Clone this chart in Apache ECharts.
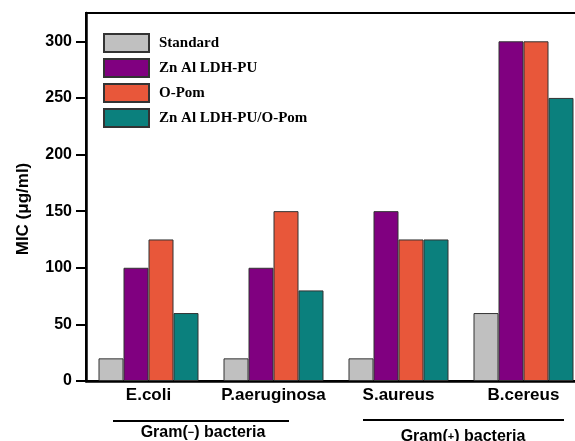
<!DOCTYPE html>
<html>
<head>
<meta charset="utf-8">
<script src="https://cdn.jsdelivr.net/npm/echarts@6/dist/echarts.min.js"></script>
<style>
  html, body { margin: 0; padding: 0; background: #fff; }
  #chart { width: 575px; height: 441px; }
</style>
</head>
<body>
<div id="chart"></div>
<script>
// Minimum inhibitory concentration per strain and material
const categories = ['E.coli', 'P.aeruginosa', 'S.aureus', 'B.cereus'];
const seriesNames = ['Standard', 'Zn Al LDH-PU', 'O-Pom', 'Zn Al LDH-PU/O-Pom'];
const standard = [20, 20, 20, 60];
const znAlLdhPu = [100, 100, 150, 300];
const oPom = [125, 150, 125, 300];
const znAlLdhPuOPom = [60, 80, 125, 250];
const yTicks = [0, 50, 100, 150, 200, 250, 300];
const seriesValues = [standard, znAlLdhPu, oPom, znAlLdhPuOPom];
const seriesColors = ['#c0c0c0', '#800080', '#e8573a', '#0b807d'];

const chart = echarts.init(document.getElementById('chart'), null, { renderer: 'canvas' });

const axisFont = { fontFamily: 'Liberation Sans, Arial, sans-serif', fontWeight: 'bold', color: '#000' };

chart.setOption({
  animation: false,
  backgroundColor: '#fff',
  grid: {
    left: 86, top: 13, width: 500, height: 368,
    containLabel: false, outerBoundsMode: 'none',
    show: true, borderColor: '#000', borderWidth: 2, backgroundColor: 'transparent'
  },
  legend: {
    orient: 'vertical',
    left: 98, top: 28,
    itemWidth: 45, itemHeight: 18, itemGap: 5,
    icon: 'rect',
    data: seriesNames,
    textStyle: { fontFamily: 'Liberation Serif, Times New Roman, serif', fontWeight: 'bold', fontSize: 15, color: '#000', padding: [0, 0, 0, 5] }
  },
  xAxis: {
    type: 'category',
    data: categories,
    boundaryGap: true,
    axisLine: { lineStyle: { color: '#000', width: 2.5 } },
    axisTick: { alignWithLabel: true, length: 8, lineStyle: { color: '#000', width: 2 } },
    axisLabel: Object.assign({ fontSize: 17, margin: 6, interval: 0 }, axisFont),
    splitLine: { show: false }
  },
  yAxis: {
    type: 'value',
    min: 0, max: 325,
    axisLine: { show: true, lineStyle: { color: '#000', width: 2.5 } },
    axisTick: { show: true, length: 10, lineStyle: { color: '#000', width: 2 }, customValues: yTicks },
    axisLabel: Object.assign({ fontSize: 16, margin: 14, customValues: yTicks }, axisFont),
    splitLine: { show: false }
  },
  series: seriesNames.map((name, i) => ({
    name: name,
    type: 'bar',
    data: seriesValues[i],
    barGap: '0%',
    barCategoryGap: '20%',
    itemStyle: { color: seriesColors[i], borderColor: '#333', borderWidth: 1 }
  })),
  graphic: [
    {
      type: 'text', x: 23, y: 209, rotation: Math.PI / 2,
      style: {
        text: 'MIC (\u03bcg/ml)', fill: '#000',
        font: 'bold 17px Liberation Sans, Arial, sans-serif',
        textAlign: 'center', textVerticalAlign: 'middle'
      }
    },
    { type: 'line', shape: { x1: 113, y1: 421, x2: 289, y2: 421 }, style: { stroke: '#000', lineWidth: 2 } },
    { type: 'line', shape: { x1: 363, y1: 420, x2: 564, y2: 420 }, style: { stroke: '#000', lineWidth: 2 } },
    {
      type: 'text', x: 203, y: 433,
      style: {
        text: '{a|Gram(}{s|\u2212}{a|) bacteria}',
        rich: {
          a: { font: 'bold 16px Liberation Sans, Arial, sans-serif', fill: '#000' },
          s: { font: 'bold 11px Liberation Sans, Arial, sans-serif', fill: '#000' }
        },
        textAlign: 'center', textVerticalAlign: 'middle'
      }
    },
    {
      type: 'text', x: 463, y: 437,
      style: {
        text: '{a|Gram(}{s|+}{a|) bacteria}',
        rich: {
          a: { font: 'bold 16px Liberation Sans, Arial, sans-serif', fill: '#000' },
          s: { font: 'bold 11px Liberation Sans, Arial, sans-serif', fill: '#000' }
        },
        textAlign: 'center', textVerticalAlign: 'middle'
      }
    }
  ]
});
</script>
</body>
</html>
